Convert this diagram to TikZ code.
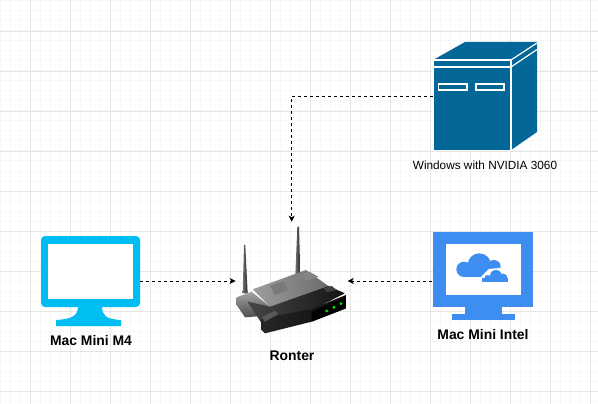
\documentclass[tikz,border=0pt]{standalone}
\usepackage{fontspec}
\setmainfont{Liberation Sans}
\usetikzlibrary{arrows.meta}
\definecolor{towerblue}{HTML}{036897}
\definecolor{screencyan}{HTML}{00BEF2}
\definecolor{screenblue}{HTML}{3D8EF0}
\definecolor{gridminor}{HTML}{F7F7F7}
\definecolor{gridmajor}{HTML}{E6E6E6}

\begin{document}
\begin{tikzpicture}[
      x=1pt, y=-1pt, >={Stealth[length=6pt,width=6pt,inset=1.5pt]},
      box/.style={inner sep=0pt,outer sep=0pt},
      lbl/.style={font=\fontsize{11.8}{14}\selectfont},
      lblb/.style={font=\fontsize{13.9}{16}\selectfont\bfseries},
      link/.style={draw=black,dashed,line width=0.9pt,->},
    ]
    \useasboundingbox (0,0) rectangle (598,404);
    \fill[white] (0,0) rectangle (598,404);
    % grid
    \foreach \gx in {0,10,...,590} \draw[gridminor,line width=1pt] (\gx,0) -- (\gx,404);
    \foreach \gy in {1,11,...,401} \draw[gridminor,line width=1pt] (0,\gy) -- (598,\gy);
    \foreach \gx in {30,70,...,590} \draw[gridmajor,line width=0.9pt] (\gx,0) -- (\gx,404);
    \foreach \gy in {31,71,...,391} \draw[gridmajor,line width=0.9pt] (0,\gy) -- (598,\gy);

    % holders for the icons
    \node[box,minimum width=99pt,minimum height=90pt] (macfour) at (90.5,281) {};
    \node[box,minimum width=112pt,minimum height=118.6pt] (router) at (291.65,281) {};
    \node[box,minimum width=101pt,minimum height=88pt] (macintel) at (482,276) {};
    \node[box,minimum width=104pt,minimum height=108pt] (tower) at (485,96.5) {};

    % tower
    \fill[towerblue] (433,150) -- (433,60) -- (465,42) -- (537,42) -- (537,132) -- (511,150) -- cycle;
    \draw[white,line width=1.2pt] (433,150) -- (433,60) -- (511,60) -- (511,150);
    \draw[white,line width=1.2pt] (433,67) -- (511,67);
    \draw[white,line width=1.2pt] (511,60) -- (537,43);
    \draw[white,line width=1.2pt] (511,67) -- (537,49.5);
    \draw[white,line width=1.2pt] (438.5,84) rectangle (467,90);
    \draw[white,line width=1.2pt] (476,84) rectangle (504,90);

    % mac mini m4
    \fill[screencyan,rounded corners=4pt] (41,236) rectangle (140,307);
    \fill[white] (48,244) rectangle (133,299);
    \fill[screencyan] (78,306) -- (102,306) .. controls (102,316) and (106,319) .. (121,320)
      -- (121,326) -- (56,326) -- (56,320) .. controls (72,319) and (78,316) .. (78,306) -- cycle;

    % mac mini intel
    \fill[screenblue] (433,232) rectangle (533,307);
    \fill[white] (446,244) rectangle (521,295);
    \fill[screenblue] (465,306) rectangle (502,315);
    \fill[screenblue] (452,314) rectangle (515,320);
    \begin{scope}[shift={(420,220)},x=0.3333pt,y=-0.3333pt]
      \fill[screenblue] (178,135) circle (35);
      \fill[screenblue] (132,148) circle (23);
      \fill[screenblue] (222,140) circle (20);
      \fill[screenblue] (132,130) rectangle (240,170);
      \fill[white,rounded corners=8pt] (178,188) -- (190,155) -- (225,140) -- (255,150) -- (275,190) -- cycle;
      \fill[screenblue] (228,168) circle (18);
      \fill[screenblue] (203,175) circle (10);
      \fill[screenblue] (250,173) circle (12);
      \fill[screenblue] (185,175) rectangle (265,185);
    \end{scope}

    % router
    \begin{scope}[shift={(220,210)},x=0.3333pt,y=-0.3333pt]
      \shade[left color=black!55,right color=black!85] (68,250) -- (72,105) -- (76,105) -- (83,250) -- cycle;
      \shade[left color=black!55,right color=black!85] (226,195) -- (232,50) -- (237,50) -- (241,195) -- cycle;
      % left lobe
      \shade[top color=black!35,bottom color=black!70] (50,262) -- (95,245) -- (150,290) -- (150,302) -- (125,318) -- (75,322) -- (50,285) -- cycle;
      % grey deck
      \shade[left color=black!38,right color=black!58] (98,238) -- (258,180) -- (325,228) -- (150,290) -- cycle;
      \fill[black!48] (240,195) -- (268,185) -- (295,200) -- (262,212) -- cycle;
      \fill[black!52] (150,228) -- (190,214) -- (205,240) -- (165,255) -- cycle;
      % dark top
      \shade[left color=black!72,right color=black!92] (82,275) -- (150,290) -- (325,228) -- (375,250) -- (272,302) -- (125,340) -- cycle;
      \fill[black!75] (310,235) -- (335,228) -- (350,240) -- (322,247) -- cycle;
      % front
      \shade[left color=black!85,right color=black!95] (125,325) -- (272,298) -- (378,255) -- (378,295) -- (275,335) -- (135,370) -- (125,360) -- cycle;
      \fill[black!65] (125,322) -- (165,302) -- (175,312) -- (135,335) -- cycle;
      \fill[black] (275,305) -- (376,262) -- (378,295) -- (275,335) -- cycle;
      \fill[green!85!black] (320,303) circle (5);
      \fill[green!85!black] (342,292) circle (5);
      \fill[green!85!black] (363,281) circle (5);
    \end{scope}

    % labels
    \node[lbl,box] (towerlbl) at (485,165) {Windows with NVIDIA 3060};
    \node[lblb,box] (macfourlbl) at (91,341) {Mac Mini M4};
    \node[lblb,box] (macintellbl) at (483,335) {Mac Mini Intel};
    \node[lblb,box] (routerlbl) at (292,356) {Ronter};

    % links
    \draw[link] (tower.west) -| (router.north);
    \draw[link] (macfour.east) -- (router.west);
    \draw[link] (macintel.west |- router.east) -- (router.east);
  \end{tikzpicture}
\end{document}
